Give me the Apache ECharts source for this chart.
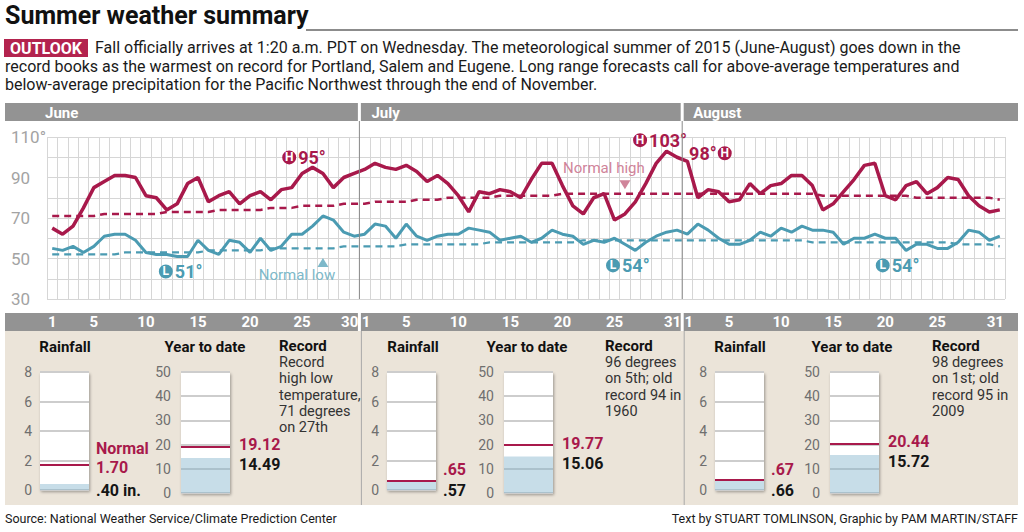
<!DOCTYPE html>
<html><head><meta charset="utf-8">
<script src="https://cdn.jsdelivr.net/npm/echarts@6/dist/echarts.min.js"></script>
<style>html,body{margin:0;padding:0;background:#fff}#c{width:1024px;height:532px}</style>
</head><body><div id="c"></div>
<script>
// ---------------- DATA ----------------
const monthNames = ['June', 'July', 'August'];
const monthAbbr = ['Jun', 'Jul', 'Aug'];
const juneTicks = [1, 5, 10, 15, 20, 25, 30];
const julyTicks = [1, 5, 10, 15, 20, 25, 31];
const augTicks = [1, 5, 10, 15, 20, 25, 31];
const yTickLabels = {30: '30', 50: '50', 70: '70', 90: '90', 110: '110°'};

const juneHigh = [65,62,66,75,85,88,91,91,90,81,80,74,77,87,90,78,81,83,77,81,83,79,84,85,92,95,92,85,90,92];
const julyHigh = [94,97,95,94,96,93,88,91,87,81,73,83,82,84,83,80,89,97,97,86,76,72,80,82,69,72,78,87,97,103,100];
const augHigh  = [98,80,84,83,78,79,87,82,86,87,91,91,86,74,77,83,89,96,97,81,79,86,88,82,85,90,89,81,76,73,74];

const juneLow = [55,54,56,53,56,61,62,62,59,53,52,52,51,51,59,54,52,59,58,53,60,54,56,62,62,66,71,69,63,61];
const julyLow = [62,67,66,60,67,61,59,61,62,62,65,64,63,59,60,61,58,60,64,62,61,57,59,58,60,57,54,58,61,63,64];
const augLow  = [62,67,64,60,57,57,59,63,61,65,63,66,64,64,63,57,60,60,62,60,60,54,57,57,55,55,58,64,63,59,61];

const juneNormalHigh = [71,71,71,71,71,72,72,72,72,72,72,73,73,73,73,73,74,74,74,74,74,75,75,75,76,76,76,76,77,77];
const julyNormalHigh = [77,78,78,78,78,79,79,79,80,80,80,80,80,81,81,81,81,81,81,82,82,82,82,82,82,82,82,82,82,82,82];
const augNormalHigh  = [82,82,82,82,82,82,82,82,82,82,82,82,82,81,81,81,81,81,81,81,81,81,80,80,80,80,80,80,80,80,79];

const juneNormalLow = [52,52,52,52,52,52,52,53,53,53,53,53,53,53,53,54,54,54,54,54,54,55,55,55,55,55,55,55,56,56];
const julyNormalLow = [56,56,56,56,57,57,57,57,57,57,57,57,58,58,58,58,58,58,58,58,58,59,59,59,59,59,59,59,59,59,59];
const augNormalLow  = [59,59,59,59,59,59,59,59,59,59,59,59,58,58,58,58,58,58,58,58,58,58,58,58,58,58,57,57,57,57,56];

const rainfallActual = [0.40, 0.57, 0.66];
const rainfallNormal = [1.70, 0.65, 0.67];
const ytdActual = [14.49, 15.06, 15.72];
const ytdNormal = [19.12, 19.77, 20.44];
const recordTexts = [
  'Record\nhigh low\ntemperature,\n71 degrees\non 27th',
  '96 degrees\non 5th; old\nrecord 94 in\n1960',
  '98 degrees\non 1st; old\nrecord 95 in\n2009'
];

// ---------------- STYLE / LAYOUT ----------------
const FONT = 'Roboto, "Open Sans", sans-serif';
const CRIMSON = '#a8194b';
const TEAL = '#4b9bb2';
const PINK = '#d0849a';
const LTEAL = '#7db8c9';
const BARGRAY = '#939393';
const BEIGE = '#ebe4d9';
const PLOT = {left: 47, top: 137, width: 958, height: 162};
const panelLayout = [
  {rain: 40, ytd: 181, rainTitle: 65, ytdTitle: 205, rec: 279, rainNormDy: -7},
  {rain: 387, ytd: 504, rainTitle: 413, ytdTitle: 527, rec: 605, rainNormDy: -11},
  {rain: 715, ytd: 830, rainTitle: 740, ytdTitle: 852, rec: 932, rainNormDy: -11}
];
const annoOffsets = {high: [[-8, -10], [-6, -11], [22, -8]], low: [[4, 15], [-7, 15], [-8, 15]]};

// ---------------- BUILD ----------------
const monthsHigh = [juneHigh, julyHigh, augHigh];
const monthsLow = [juneLow, julyLow, augLow];
const monthsTicks = [juneTicks, julyTicks, augTicks];
const highAll = [].concat(...monthsHigh);
const lowAll = [].concat(...monthsLow);
const nhAll = [].concat(juneNormalHigh, julyNormalHigh, augNormalHigh);
const nlAll = [].concat(juneNormalLow, julyNormalLow, augNormalLow);
const N = highAll.length;
const monthStart = [0, juneHigh.length, juneHigh.length + julyHigh.length];
const dayCats = [], dayShow = [];
monthsHigh.forEach((m, k) => m.forEach((_, i) => { dayCats.push(monthAbbr[k] + ' ' + (i + 1)); dayShow.push(monthsTicks[k].includes(i + 1)); }));
const toPts = arr => arr.map((v, i) => [i + 0.5, v]);
function argExt(arr, isMax) { let b = 0; arr.forEach((v, i) => { if (isMax ? v > arr[b] : v < arr[b]) b = i; }); return b; }

function annot(arr, k, isMax) {
  const i = argExt(arr, isMax);
  const v = arr[i];
  const idx = monthStart[k] + i;
  const letter = isMax ? 'H' : 'L';
  const fmt = (isMax && k === 2) ? '{t|' + v + '°}{c|' + letter + '}' : '{c|' + letter + '}{t|' + v + '°}';
  const col = isMax ? CRIMSON : TEAL;
  return {
    coord: [idx + 0.5, v], symbol: 'circle', symbolSize: 0,
    label: {show: true, formatter: fmt, offset: (isMax ? annoOffsets.high : annoOffsets.low)[k],
      rich: {
        c: {backgroundColor: col, color: '#fff', borderRadius: 7, width: 14, height: 14, lineHeight: 14, align: 'center', fontSize: 12, fontWeight: 'bold', fontFamily: FONT},
        t: {color: col, fontSize: 18, fontWeight: 'bold', fontFamily: FONT, padding: [0, 1, 0, 2]}
      }}
  };
}

const tickRich = {
  e: {color: '#fff', fontWeight: 'bold', fontSize: 15, fontFamily: FONT, padding: [0, 9, 0, 0]},
  s: {color: '#fff', fontWeight: 'bold', fontSize: 15, fontFamily: FONT, padding: [0, 0, 0, 3]}
};
const grids = [Object.assign({show: false}, PLOT)];
const xAxes = [
  {type: 'value', gridIndex: 0, min: 0, max: N, interval: 1, axisLine: {show: false}, axisTick: {show: false}, axisLabel: {show: false},
   splitLine: {show: true, lineStyle: {color: '#d6d6d6', width: 1}}},
  {type: 'category', gridIndex: 0, data: dayCats, boundaryGap: true, position: 'bottom', axisLine: {show: false}, axisTick: {show: false}, splitLine: {show: false},
   axisLabel: {interval: 0, color: '#fff', fontWeight: 'bold', fontSize: 15, fontFamily: FONT, margin: 23, verticalAlign: 'middle', rich: tickRich,
     formatter: (v, i) => {
       if (!dayShow[i]) return '';
       const d = v.split(' ')[1];
       if (i + 1 === N || monthStart.includes(i + 1)) return '{e|' + d + '}';
       if (i > 0 && monthStart.includes(i)) return '{s|' + d + '}';
       return d;
     }}}
];
const yAxes = [
  {type: 'value', gridIndex: 0, min: 30, max: 110, interval: 10, axisLine: {show: false}, axisTick: {show: false},
   splitLine: {show: true, lineStyle: {color: '#d6d6d6', width: 1}},
   axisLabel: {color: '#a3a3a3', fontSize: 17, fontFamily: FONT, align: 'left', margin: 36, formatter: v => yTickLabels[v] || ''}}
];
const series = [
  {type: 'line', xAxisIndex: 0, yAxisIndex: 0, data: toPts(nhAll), symbol: 'none', silent: true,
   lineStyle: {color: CRIMSON, width: 2.5, type: [7, 5]},
   markPoint: {silent: true, data: [
     {coord: [55.5, nhAll[55]], symbol: 'triangle', symbolRotate: 180, symbolSize: [11, 9], symbolOffset: [0, -9], itemStyle: {color: PINK}, label: {show: false}},
     {coord: [55.5, nhAll[55]], symbol: 'circle', symbolSize: 0, label: {show: true, formatter: 'Normal high', offset: [-21, -26], color: PINK, fontSize: 15, fontFamily: FONT}}
   ]}},
  {type: 'line', xAxisIndex: 0, yAxisIndex: 0, data: toPts(nlAll), symbol: 'none', silent: true,
   lineStyle: {color: TEAL, width: 2.2, type: [7, 5]},
   markPoint: {silent: true, data: [
     {coord: [26.5, nlAll[26]], symbol: 'triangle', symbolSize: [11, 9], symbolOffset: [0, 14], itemStyle: {color: LTEAL}, label: {show: false}},
     {coord: [26.5, nlAll[26]], symbol: 'circle', symbolSize: 0, label: {show: true, formatter: 'Normal low', offset: [-26, 27], color: LTEAL, fontSize: 15, fontFamily: FONT}}
   ]}},
  {type: 'line', xAxisIndex: 0, yAxisIndex: 0, data: toPts(lowAll), symbol: 'none', silent: true,
   lineStyle: {color: TEAL, width: 3}, markPoint: {silent: true, data: monthsLow.map((m, k) => annot(m, k, false))}},
  {type: 'line', xAxisIndex: 0, yAxisIndex: 0, data: toPts(highAll), symbol: 'none', silent: true,
   lineStyle: {color: CRIMSON, width: 3.5}, markPoint: {silent: true, data: monthsHigh.map((m, k) => annot(m, k, true))}}
];

const fmtNum = v => v.toFixed(2).replace(/^0/, '');
panelLayout.forEach((p, k) => {
  [['rain', 8, 2, 118, rainfallActual, rainfallNormal], ['ytd', 50, 10, 121, ytdActual, ytdNormal]].forEach(([kind, max, step, h, act, norm]) => {
    const gi = grids.length, xi = xAxes.length, yi = yAxes.length;
    grids.push({left: p[kind], top: 372, width: 49, height: h, show: true, backgroundColor: '#fff', borderWidth: 0,
      shadowColor: 'rgba(0,0,0,0.35)', shadowBlur: 3, shadowOffsetX: 1, shadowOffsetY: 2});
    xAxes.push({type: 'category', gridIndex: gi, data: [kind], show: false});
    yAxes.push({type: 'value', gridIndex: gi, min: 0, max: max, interval: step, axisLine: {show: false}, axisTick: {show: false},
      splitLine: {show: true, lineStyle: {color: '#cdcdcd', width: 2}},
      axisLabel: {color: '#6f6f6f', fontSize: 14, fontFamily: FONT, margin: kind === 'rain' ? 8 : 10, padding: [0, 0, 9, 0]}});
    const isRain = kind === 'rain';
    const twoLine = isRain && k === 0;
    series.push({type: 'bar', xAxisIndex: xi, yAxisIndex: yi, data: [act[k]], barWidth: '100%', silent: true,
      itemStyle: {color: 'rgba(130,180,205,0.45)'},
      label: {show: true, position: isRain ? ['100%', '100%'] : ['100%', 0], align: 'left', verticalAlign: 'middle',
        offset: isRain ? [7, 0] : [9, 7], fontSize: 16, lineHeight: 15, fontWeight: 'bold', fontFamily: FONT, color: '#151515',
        formatter: () => fmtNum(act[k]) + (twoLine ? ' in.' : '')},
      markLine: {silent: true, symbol: 'none', data: [{yAxis: norm[k]}],
        lineStyle: {color: CRIMSON, width: 2, type: 'solid'},
        label: {show: true, position: 'end', distance: isRain ? 7 : 9, offset: [0, isRain ? p.rainNormDy : -2],
          color: CRIMSON, fontSize: 16, fontWeight: 'bold', fontFamily: FONT, lineHeight: twoLine ? 19 : 15.5,
          formatter: () => (twoLine ? 'Normal\n' : '') + fmtNum(norm[k])}}});
  });
});

const chart = echarts.init(document.getElementById('c'), null, {renderer: 'svg'});
chart.setOption({animation: false, grid: grids, xAxis: xAxes, yAxis: yAxes, series: series});

// ---------------- DECORATION ----------------
const d1 = chart.convertToPixel({xAxisIndex: 0}, monthStart[1]);
const d2 = chart.convertToPixel({xAxisIndex: 0}, monthStart[2]);
const txt = (x, y, text, o) => Object.assign({type: 'text', x: x, y: y, z: 100, silent: true,
  style: Object.assign({text: text, fill: '#1a1a1a', fontSize: 15, fontFamily: FONT, align: 'left', verticalAlign: 'middle'}, o || {})});
const rect = (x, y, w, h, fill, z) => ({type: 'rect', z: z === undefined ? -10 : z, silent: true, shape: {x: x, y: y, width: w, height: h}, style: {fill: fill}});
const line = (x1, y1, x2, y2, stroke, w) => ({type: 'line', z: 50, silent: true, shape: {x1: x1, y1: y1, x2: x2, y2: y2}, style: {stroke: stroke, lineWidth: w}});
const segs = [[5, d1 - 1.5], [d1 + 1.5, d2 - 1.5], [d2 + 1.5, 1018]];
const g = [];
g.push(rect(5, 331, 1013, 174, BEIGE));
segs.forEach(([a, b]) => { g.push(rect(a, 103, b - a, 18, BARGRAY)); g.push(rect(a, 313, b - a, 18, BARGRAY)); });
g.push(line(d1, 121, d1, PLOT.top + PLOT.height, '#8a8a8a', 1));
g.push(line(d2, 121, d2, PLOT.top + PLOT.height, '#8a8a8a', 1));
g.push(line(d1 + 2, 331, d1 + 2, 505, '#a9a9a9', 1));
g.push(line(d2 + 2, 331, d2 + 2, 505, '#a9a9a9', 1));
const monthX = [45, d1 + 12, d2 + 11];
monthNames.forEach((m, k) => g.push(txt(monthX[k], 112.5, m, {fill: '#fff', fontWeight: 'bold', fontSize: 15})));
g.push(txt(5, 15, 'Summer weather summary', {fontWeight: 'bold', fontSize: 25, fill: '#111'}));
g.push(line(306, 30, 1018, 30, '#8c8c8c', 2));
g.push(rect(4, 39, 84, 18, '#b3234e', 10));
g.push(txt(46, 48.5, 'OUTLOOK', {fill: '#fff', fontWeight: 'bold', fontSize: 16, align: 'center'}));
g.push(txt(95, 47.5, 'Fall officially arrives at 1:20 a.m. PDT on Wednesday. The meteorological summer of 2015 (June-August) goes down in the', {fontSize: 16}));
g.push(txt(5, 66, 'record books as the warmest on record for Portland, Salem and Eugene. Long range forecasts call for above-average temperatures and', {fontSize: 16}));
g.push(txt(5, 84.5, 'below-average precipitation for the Pacific Northwest through the end of November.', {fontSize: 16}));
panelLayout.forEach((p, k) => {
  g.push(txt(p.rainTitle, 347, 'Rainfall', {fontWeight: 'bold', fontSize: 15, lineHeight: 15, align: 'center', fill: '#111'}));
  g.push(txt(p.ytdTitle, 347, 'Year to date', {fontWeight: 'bold', fontSize: 15, lineHeight: 15, align: 'center', fill: '#111'}));
  g.push(txt(p.rec, 345.5, 'Record', {fontWeight: 'bold', fontSize: 15, lineHeight: 15, fill: '#111'}));
  g.push(txt(p.rec, 354.5, recordTexts[k], {fontSize: 14.5, lineHeight: 16.2, verticalAlign: 'top', fill: '#333'}));
});
g.push(txt(5, 518, 'Source: National Weather Service/Climate Prediction Center', {fontSize: 12.5}));
g.push(txt(1018, 518, 'Text by STUART TOMLINSON, Graphic by PAM MARTIN/STAFF', {fontSize: 12.5, align: 'right'}));
chart.setOption({graphic: {elements: g}});
</script></body></html>
